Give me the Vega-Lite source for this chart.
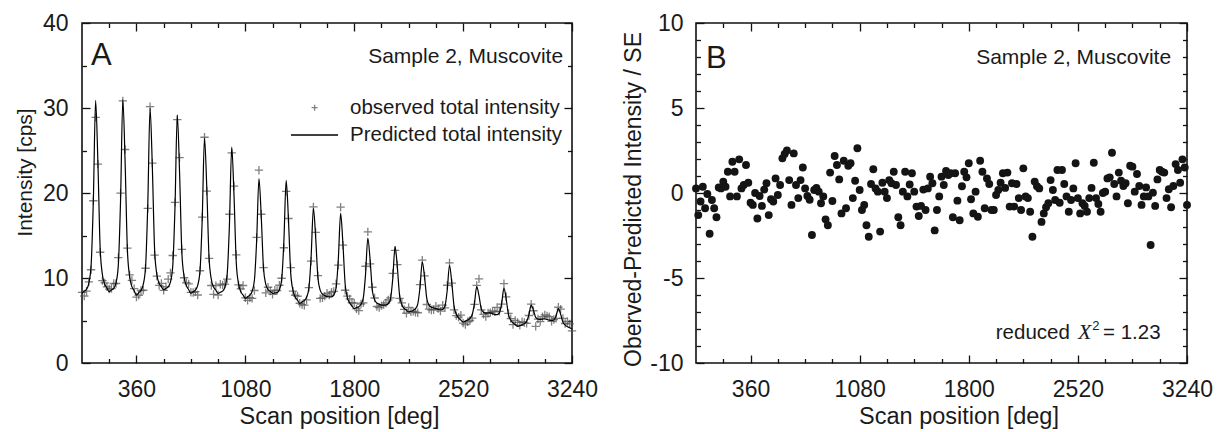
{
"$schema": "https://vega.github.io/schema/vega-lite/v6.json",
"background": "white",
"padding": {"left": 13, "top": 11, "right": 0, "bottom": 0},
"spacing": 22,
"config": {
 "axis": {"grid": false, "domain": false, "labelFont": "Liberation Sans", "labelFontSize": 23, "labelColor": "#1a1a1a", "titleFont": "Liberation Sans", "titleFontSize": 23.5, "titleFontWeight": "normal", "titleColor": "#1a1a1a", "tickColor": "#111111", "tickWidth": 1.3, "labelFlush": false, "labelOverlap": false},
 "view": {"stroke": "#111111", "strokeWidth": 1.6}
},
"datasets": {"scan": [
{"x":0,"o":8.32,"p":8.2,"r":0.27},{"x":15,"o":7.88,"p":8.45,"r":-1.3},{"x":30,"o":8.46,"p":8.68,"r":-0.5},{"x":45,"o":9.55,"p":9.38,"r":0.37},{"x":60,"o":10.97,"p":11.43,"r":-0.9},{"x":75,"o":19.09,"p":19.13,"r":-0.06},{"x":90,"o":28.9,"p":30.9,"r":-2.4},{"x":105,"o":23.39,"p":23.69,"r":-0.41},{"x":120,"o":13.03,"p":13.53,"r":-0.9},{"x":135,"o":9.69,"p":10.38,"r":-1.43},{"x":150,"o":9.42,"p":9.27,"r":0.33},{"x":165,"o":8.95,"p":8.83,"r":0.27},
{"x":180,"o":8.69,"p":8.4,"r":0.67},{"x":195,"o":8.76,"p":8.6,"r":0.37},{"x":210,"o":9.35,"p":8.79,"r":1.25},{"x":225,"o":9.35,"p":9.44,"r":-0.2},{"x":240,"o":12.39,"p":11.46,"r":1.84},{"x":255,"o":19.99,"p":19.17,"r":1.25},{"x":270,"o":30.83,"p":31.0,"r":-0.2},{"x":285,"o":25.12,"p":23.67,"r":1.98},{"x":300,"o":13.52,"p":13.37,"r":0.27},{"x":315,"o":10.37,"p":10.15,"r":0.47},{"x":330,"o":9.72,"p":8.98,"r":1.65},{"x":345,"o":8.75,"p":8.49,"r":0.6},
{"x":360,"o":7.76,"p":8.0,"r":-0.57},{"x":375,"o":7.97,"p":8.27,"r":-0.7},{"x":390,"o":8.53,"p":8.53,"r":0},{"x":405,"o":8.56,"p":9.24,"r":-1.5},{"x":420,"o":11.15,"p":11.24,"r":-0.18},{"x":435,"o":18.18,"p":18.67,"r":-0.76},{"x":450,"o":30.16,"p":30.0,"r":0.2},{"x":465,"o":23.52,"p":23.11,"r":0.57},{"x":480,"o":12.68,"p":13.39,"r":-1.3},{"x":495,"o":10.22,"p":10.4,"r":-0.37},{"x":510,"o":9.14,"p":9.37,"r":-0.5},{"x":525,"o":9.37,"p":8.98,"r":0.86},
{"x":540,"o":8.55,"p":8.6,"r":-0.12},{"x":555,"o":8.99,"p":8.78,"r":0.47},{"x":570,"o":9.87,"p":8.95,"r":2.04},{"x":585,"o":10.6,"p":9.54,"r":2.3},{"x":600,"o":12.65,"p":11.38,"r":2.5},{"x":615,"o":18.9,"p":18.41,"r":0.76},{"x":630,"o":28.63,"p":29.2,"r":-0.7},{"x":645,"o":24.17,"p":22.51,"r":2.33},{"x":660,"o":13.37,"p":13.11,"r":0.47},{"x":675,"o":10.03,"p":10.17,"r":-0.3},{"x":690,"o":9.44,"p":9.1,"r":0.76},{"x":705,"o":9.31,"p":8.65,"r":1.5},
{"x":720,"o":8.32,"p":8.2,"r":0.27},{"x":735,"o":8.3,"p":8.38,"r":-0.18},{"x":750,"o":8.39,"p":8.57,"r":-0.4},{"x":765,"o":8.0,"p":9.12,"r":-2.47},{"x":780,"o":10.85,"p":10.76,"r":0.18},{"x":795,"o":17.17,"p":16.98,"r":0.3},{"x":810,"o":26.56,"p":26.5,"r":0.08},{"x":825,"o":20.23,"p":20.64,"r":-0.6},{"x":840,"o":12.3,"p":12.41,"r":-0.2},{"x":855,"o":9.12,"p":9.85,"r":-1.55},{"x":870,"o":8.08,"p":8.93,"r":-1.9},{"x":885,"o":9.1,"p":8.57,"r":1.2},
{"x":900,"o":8.0,"p":8.2,"r":-0.47},{"x":915,"o":9.27,"p":8.33,"r":2.18},{"x":930,"o":9.17,"p":8.45,"r":1.65},{"x":945,"o":9.29,"p":8.93,"r":0.8},{"x":960,"o":9.87,"p":10.45,"r":-1.2},{"x":975,"o":17.5,"p":16.35,"r":1.9},{"x":990,"o":24.72,"p":25.4,"r":-0.9},{"x":1005,"o":20.82,"p":19.75,"r":1.6},{"x":1020,"o":12.73,"p":11.83,"r":1.75},{"x":1035,"o":9.19,"p":9.33,"r":-0.3},{"x":1050,"o":8.71,"p":8.4,"r":0.72},{"x":1065,"o":9.12,"p":8.0,"r":2.63},
{"x":1080,"o":7.67,"p":7.6,"r":0.18},{"x":1095,"o":7.37,"p":7.79,"r":-1.0},{"x":1110,"o":7.68,"p":7.98,"r":-0.7},{"x":1125,"o":7.61,"p":8.44,"r":-1.9},{"x":1140,"o":8.53,"p":9.73,"r":-2.57},{"x":1155,"o":14.77,"p":14.47,"r":0.53},{"x":1170,"o":22.68,"p":21.7,"r":1.4},{"x":1185,"o":17.5,"p":17.33,"r":0.27},{"x":1200,"o":11.21,"p":11.17,"r":0.08},{"x":1215,"o":8.25,"p":9.29,"r":-2.27},{"x":1230,"o":8.91,"p":8.65,"r":0.6},{"x":1245,"o":8.46,"p":8.43,"r":0.08},
{"x":1260,"o":8.07,"p":8.2,"r":-0.3},{"x":1275,"o":8.57,"p":8.24,"r":0.76},{"x":1290,"o":8.53,"p":8.28,"r":0.57},{"x":1305,"o":9.15,"p":8.6,"r":1.25},{"x":1320,"o":9.97,"p":9.75,"r":0.47},{"x":1335,"o":13.56,"p":14.37,"r":-1.43},{"x":1350,"o":20.18,"p":21.5,"r":-1.9},{"x":1365,"o":17.0,"p":16.95,"r":0.08},{"x":1380,"o":11.21,"p":10.6,"r":1.25},{"x":1395,"o":8.46,"p":8.55,"r":-0.2},{"x":1410,"o":7.97,"p":7.76,"r":0.5},{"x":1425,"o":7.85,"p":7.38,"r":1.16},
{"x":1440,"o":7.03,"p":7.0,"r":0.08},{"x":1455,"o":6.86,"p":7.18,"r":-0.8},{"x":1470,"o":6.8,"p":7.35,"r":-1.35},{"x":1485,"o":7.42,"p":7.74,"r":-0.76},{"x":1500,"o":8.87,"p":8.78,"r":0.2},{"x":1515,"o":11.98,"p":12.51,"r":-1.0},{"x":1530,"o":18.37,"p":18.2,"r":0.27},{"x":1545,"o":15.36,"p":14.81,"r":0.96},{"x":1560,"o":10.28,"p":10.01,"r":0.57},{"x":1575,"o":7.6,"p":8.57,"r":-2.2},{"x":1590,"o":7.67,"p":8.1,"r":-1.0},{"x":1605,"o":7.87,"p":7.95,"r":-0.2},
{"x":1620,"o":8.2,"p":7.8,"r":0.96},{"x":1635,"o":7.99,"p":7.79,"r":0.47},{"x":1650,"o":8.32,"p":7.78,"r":1.3},{"x":1665,"o":8.43,"p":7.98,"r":1.06},{"x":1680,"o":9.32,"p":8.8,"r":1.16},{"x":1695,"o":11.51,"p":12.26,"r":-1.43},{"x":1710,"o":18.33,"p":17.6,"r":1.16},{"x":1725,"o":13.87,"p":14.12,"r":-0.45},{"x":1740,"o":8.56,"p":9.29,"r":-1.6},{"x":1755,"o":7.87,"p":7.7,"r":0.4},{"x":1770,"o":7.55,"p":7.05,"r":1.25},{"x":1785,"o":7.09,"p":6.73,"r":0.92},
{"x":1800,"o":7.06,"p":6.4,"r":1.75},{"x":1815,"o":6.37,"p":6.51,"r":-0.37},{"x":1830,"o":6.17,"p":6.63,"r":-1.2},{"x":1845,"o":6.94,"p":6.91,"r":0.08},{"x":1860,"o":7.08,"p":7.66,"r":-1.4},{"x":1875,"o":11.38,"p":10.46,"r":1.9},{"x":1890,"o":15.42,"p":14.7,"r":1.25},{"x":1905,"o":11.67,"p":12.14,"r":-0.9},{"x":1920,"o":8.91,"p":8.53,"r":0.86},{"x":1935,"o":7.65,"p":7.43,"r":0.53},{"x":1950,"o":6.65,"p":7.05,"r":-1.0},{"x":1965,"o":6.53,"p":6.93,"r":-1.0},
{"x":1980,"o":6.75,"p":6.8,"r":-0.12},{"x":1995,"o":6.87,"p":6.8,"r":0.18},{"x":2010,"o":7.06,"p":6.82,"r":0.6},{"x":2025,"o":7.43,"p":6.97,"r":1.16},{"x":2040,"o":7.67,"p":7.55,"r":0.3},{"x":2055,"o":10.54,"p":9.97,"r":1.2},{"x":2070,"o":13.26,"p":13.7,"r":-0.8},{"x":2085,"o":11.58,"p":11.29,"r":0.57},{"x":2100,"o":7.61,"p":7.95,"r":-0.8},{"x":2115,"o":7.07,"p":6.86,"r":0.53},{"x":2130,"o":6.31,"p":6.42,"r":-0.3},{"x":2145,"o":5.85,"p":6.22,"r":-1.0},
{"x":2160,"o":6.53,"p":6.0,"r":1.45},{"x":2175,"o":6.02,"p":6.09,"r":-0.2},{"x":2190,"o":6.07,"p":6.18,"r":-0.3},{"x":2205,"o":5.97,"p":6.39,"r":-1.1},{"x":2220,"o":5.91,"p":6.93,"r":-2.57},{"x":2235,"o":9.21,"p":8.91,"r":0.67},{"x":2250,"o":12.11,"p":11.9,"r":0.4},{"x":2265,"o":10.24,"p":10.11,"r":0.27},{"x":2280,"o":6.88,"p":7.58,"r":-1.7},{"x":2295,"o":6.34,"p":6.81,"r":-1.2},{"x":2310,"o":6.24,"p":6.56,"r":-0.84},{"x":2325,"o":6.25,"p":6.48,"r":-0.6},
{"x":2340,"o":6.69,"p":6.4,"r":0.76},{"x":2355,"o":6.4,"p":6.33,"r":0.18},{"x":2370,"o":6.1,"p":6.25,"r":-0.41},{"x":2385,"o":6.81,"p":6.3,"r":1.35},{"x":2400,"o":6.48,"p":6.7,"r":-0.57},{"x":2415,"o":9.15,"p":8.56,"r":1.35},{"x":2430,"o":11.77,"p":11.5,"r":0.53},{"x":2445,"o":9.39,"p":9.48,"r":-0.2},{"x":2460,"o":6.26,"p":6.69,"r":-1.1},{"x":2475,"o":5.58,"p":5.73,"r":-0.41},{"x":2490,"o":5.4,"p":5.31,"r":0.27},{"x":2505,"o":5.64,"p":5.05,"r":1.75},
{"x":2520,"o":4.7,"p":4.8,"r":-0.3},{"x":2535,"o":4.53,"p":4.93,"r":-1.2},{"x":2550,"o":4.85,"p":5.05,"r":-0.6},{"x":2565,"o":5.0,"p":5.26,"r":-0.76},{"x":2580,"o":5.29,"p":5.68,"r":-1.1},{"x":2595,"o":6.89,"p":7.01,"r":-0.3},{"x":2610,"o":9.14,"p":9.0,"r":0.3},{"x":2625,"o":9.9,"p":7.92,"r":1.78},{"x":2640,"o":6.26,"p":6.37,"r":-0.3},{"x":2655,"o":5.72,"p":5.96,"r":-0.65},{"x":2670,"o":5.47,"p":5.87,"r":-1.1},{"x":2685,"o":5.88,"p":5.88,"r":0},
{"x":2700,"o":5.93,"p":5.9,"r":0.08},{"x":2715,"o":6.12,"p":5.81,"r":0.86},{"x":2730,"o":6.03,"p":5.7,"r":0.92},{"x":2745,"o":6.54,"p":5.69,"r":2.37},{"x":2760,"o":6.08,"p":5.89,"r":0.53},{"x":2775,"o":6.93,"p":7.01,"r":-0.2},{"x":2790,"o":9.33,"p":8.8,"r":1.2},{"x":2805,"o":7.79,"p":7.49,"r":0.72},{"x":2820,"o":5.83,"p":5.68,"r":0.41},{"x":2835,"o":5.22,"p":5.03,"r":0.57},{"x":2850,"o":4.52,"p":4.72,"r":-0.6},{"x":2865,"o":5.01,"p":4.5,"r":1.6},
{"x":2880,"o":4.78,"p":4.3,"r":1.55},{"x":2895,"o":4.43,"p":4.4,"r":0.08},{"x":2910,"o":4.85,"p":4.49,"r":1.12},{"x":2925,"o":4.76,"p":4.63,"r":0.41},{"x":2940,"o":4.66,"p":4.89,"r":-0.7},{"x":2955,"o":5.59,"p":5.66,"r":-0.2},{"x":2970,"o":6.93,"p":6.8,"r":0.33},{"x":2985,"o":6.15,"p":6.22,"r":-0.2},{"x":3000,"o":4.31,"p":5.37,"r":-3.06},{"x":3015,"o":5.17,"p":5.16,"r":0.02},{"x":3030,"o":4.87,"p":5.13,"r":-0.76},{"x":3045,"o":5.44,"p":5.17,"r":0.8},
{"x":3060,"o":5.66,"p":5.2,"r":1.35},{"x":3075,"o":5.54,"p":5.12,"r":1.25},{"x":3090,"o":5.44,"p":5.04,"r":1.2},{"x":3105,"o":4.89,"p":4.99,"r":-0.3},{"x":3120,"o":5.12,"p":5.05,"r":0.22},{"x":3135,"o":5.26,"p":5.56,"r":-0.84},{"x":3150,"o":6.56,"p":6.4,"r":0.41},{"x":3165,"o":6.33,"p":5.72,"r":1.7},{"x":3180,"o":5.25,"p":4.81,"r":1.35},{"x":3195,"o":4.65,"p":4.46,"r":0.6},{"x":3210,"o":4.88,"p":4.27,"r":1.98},{"x":3225,"o":4.6,"p":4.14,"r":1.5},
{"x":3240,"o":3.79,"p":4.0,"r":-0.7}
]},
"hconcat": [
 {
  "width": 490, "height": 340,
  "data": {"name": "scan"},
  "resolve": {"axis": {"x": "independent", "y": "independent"}},
  "layer": [
   {"mark": {"type": "point", "opacity": 0},
    "encoding": {
     "x": {"field": "x", "type": "quantitative", "scale": {"domain": [0, 3240], "nice": false, "zero": false}, "axis": {"orient": "bottom", "values": [180,540,720,900,1260,1440,1620,1980,2160,2340,2700,2880,3060], "labels": false, "tickSize": -4.5, "title": null}},
     "y": {"field": "o", "type": "quantitative", "scale": {"domain": [0, 40], "nice": false, "zero": false}, "axis": {"orient": "left", "values": [5,15,25,35], "labels": false, "tickSize": -4.5, "title": null}}
    }},
   {"mark": {"type": "point", "opacity": 0},
    "encoding": {
     "x": {"field": "x", "type": "quantitative", "axis": {"orient": "top", "values": [360,1080,1800,2520,3240], "labels": false, "tickSize": -8, "title": null}},
     "y": {"field": "o", "type": "quantitative", "axis": {"orient": "right", "values": [0,10,20,30,40], "labels": false, "tickSize": -8, "title": null}}
    }},
   {"mark": {"type": "point", "opacity": 0},
    "encoding": {
     "x": {"field": "x", "type": "quantitative", "axis": {"orient": "top", "values": [180,540,720,900,1260,1440,1620,1980,2160,2340,2700,2880,3060], "labels": false, "tickSize": -4.5, "title": null}},
     "y": {"field": "o", "type": "quantitative", "axis": {"orient": "right", "values": [5,15,25,35], "labels": false, "tickSize": -4.5, "title": null}}
    }},
   {"mark": {"type": "point", "shape": "M-1,0H1M0,-1V1", "filled": false, "size": 70, "strokeWidth": 1.3, "color": "#4d4d4d"},
    "encoding": {
     "x": {"field": "x", "type": "quantitative", "scale": {"domain": [0, 3240], "nice": false, "zero": false}, "axis": {"orient": "bottom", "values": [360,1080,1800,2520,3240], "ticks": false, "tickSize": 0, "labelPadding": 15, "labelExpr": "'' + datum.value", "title": "Scan position [deg]", "titleX": 257, "titleY": 41}},
     "y": {"field": "o", "type": "quantitative", "scale": {"domain": [0, 40], "nice": false, "zero": false}, "axis": {"orient": "left", "values": [0,10,20,30,40], "ticks": false, "tickSize": 0, "labelPadding": 14, "labelExpr": "'' + datum.value", "title": "Intensity [cps]", "titleFontSize": 21, "titleX": -47, "titleY": 149}}
    }},
   {"mark": {"type": "line", "strokeWidth": 1.2, "interpolate": "monotone", "color": "#000000"},
    "encoding": {
     "x": {"field": "x", "type": "quantitative", "axis": {"orient": "bottom", "values": [360,1080,1800,2520,3240], "labels": false, "tickSize": -8, "title": null}},
     "y": {"field": "p", "type": "quantitative", "axis": {"orient": "left", "values": [0,10,20,30,40], "labels": false, "tickSize": -8, "title": null}}
    }},
   {"data": {"values": [{}]},
    "mark": {"type": "point", "shape": "M-1,0H1M0,-1V1", "filled": false, "size": 36, "strokeWidth": 1.3, "color": "#4d4d4d"},
    "encoding": {"x": {"datum": 1538, "type": "quantitative", "axis": null}, "y": {"datum": 30.04, "type": "quantitative", "axis": null}}},
   {"data": {"values": [{}]},
    "mark": {"type": "rule", "strokeWidth": 1.5, "color": "#000000"},
    "encoding": {"x": {"datum": 1382, "type": "quantitative", "axis": null}, "x2": {"datum": 1693}, "y": {"datum": 26.82, "type": "quantitative", "axis": null}}},
   {"data": {"values": [{}]},
    "mark": {"type": "text", "text": "observed total intensity", "font": "Liberation Sans", "fontSize": 20.5, "align": "left", "baseline": "middle", "color": "#1a1a1a"},
    "encoding": {"x": {"datum": 1772, "type": "quantitative", "axis": null}, "y": {"datum": 30.04, "type": "quantitative", "axis": null}}},
   {"data": {"values": [{}]},
    "mark": {"type": "text", "text": "Predicted total intensity", "font": "Liberation Sans", "fontSize": 20.5, "align": "left", "baseline": "middle", "color": "#1a1a1a"},
    "encoding": {"x": {"datum": 1772, "type": "quantitative", "axis": null}, "y": {"datum": 26.82, "type": "quantitative", "axis": null}}},
   {"data": {"values": [{}]},
    "mark": {"type": "text", "text": "A", "font": "Liberation Sans", "fontSize": 31, "align": "left", "baseline": "alphabetic", "color": "#1a1a1a"},
    "encoding": {"x": {"datum": 60, "type": "quantitative", "axis": null}, "y": {"datum": 35.05, "type": "quantitative", "axis": null}}},
   {"data": {"values": [{}]},
    "mark": {"type": "text", "text": "Sample 2, Muscovite", "font": "Liberation Sans", "fontSize": 21, "align": "right", "baseline": "alphabetic", "color": "#1a1a1a"},
    "encoding": {"x": {"datum": 3181, "type": "quantitative", "axis": null}, "y": {"datum": 35.3, "type": "quantitative", "axis": null}}}
  ]
 },
 {
  "width": 491, "height": 340,
  "data": {"name": "scan"},
  "resolve": {"axis": {"x": "independent", "y": "independent"}},
  "layer": [
   {"mark": {"type": "point", "opacity": 0},
    "encoding": {
     "x": {"field": "x", "type": "quantitative", "scale": {"domain": [0, 3240], "nice": false, "zero": false}, "axis": {"orient": "bottom", "values": [180,540,720,900,1260,1440,1620,1980,2160,2340,2700,2880,3060], "labels": false, "tickSize": -4.5, "title": null}},
     "y": {"field": "r", "type": "quantitative", "scale": {"domain": [-10, 10], "nice": false, "zero": false}, "axis": {"orient": "left", "values": [-9,-8,-7,-6,-4,-3,-2,-1,1,2,3,4,6,7,8,9], "labels": false, "tickSize": -4.5, "title": null}}
    }},
   {"mark": {"type": "point", "opacity": 0},
    "encoding": {
     "x": {"field": "x", "type": "quantitative", "axis": {"orient": "top", "values": [360,1080,1800,2520,3240], "labels": false, "tickSize": -8, "title": null}},
     "y": {"field": "r", "type": "quantitative", "axis": {"orient": "right", "values": [-10,-5,0,5,10], "labels": false, "tickSize": -8, "title": null}}
    }},
   {"mark": {"type": "point", "opacity": 0},
    "encoding": {
     "x": {"field": "x", "type": "quantitative", "axis": {"orient": "top", "values": [180,540,720,900,1260,1440,1620,1980,2160,2340,2700,2880,3060], "labels": false, "tickSize": -4.5, "title": null}},
     "y": {"field": "r", "type": "quantitative", "axis": {"orient": "right", "values": [-9,-8,-7,-6,-4,-3,-2,-1,1,2,3,4,6,7,8,9], "labels": false, "tickSize": -4.5, "title": null}}
    }},
   {"mark": {"type": "point", "opacity": 0},
    "encoding": {
     "x": {"field": "x", "type": "quantitative", "axis": {"orient": "bottom", "values": [360,1080,1800,2520,3240], "labels": false, "tickSize": -8, "title": null}},
     "y": {"field": "r", "type": "quantitative", "axis": {"orient": "left", "values": [-10,-5,0,5,10], "labels": false, "tickSize": -8, "title": null}}
    }},
   {"mark": {"type": "circle", "size": 62, "color": "#141414", "opacity": 1},
    "encoding": {
     "x": {"field": "x", "type": "quantitative", "scale": {"domain": [0, 3240], "nice": false, "zero": false}, "axis": {"orient": "bottom", "values": [360,1080,1800,2520,3240], "ticks": false, "tickSize": 0, "labelPadding": 15, "labelExpr": "'' + datum.value", "title": "Scan position [deg]", "titleX": 262.5, "titleY": 41}},
     "y": {"field": "r", "type": "quantitative", "scale": {"domain": [-10, 10], "nice": false, "zero": false}, "axis": {"orient": "left", "values": [-10,-5,0,5,10], "ticks": false, "tickSize": 0, "labelPadding": 13, "labelExpr": "'' + datum.value", "title": "Oberved-Predicted Intensity / SE", "titleFontSize": 23, "titleX": -51, "titleY": 176}}
    }},
   {"data": {"values": [{}]},
    "mark": {"type": "text", "text": "B", "font": "Liberation Sans", "fontSize": 31, "align": "left", "baseline": "alphabetic", "color": "#1a1a1a"},
    "encoding": {"x": {"datum": 66, "type": "quantitative", "axis": null}, "y": {"datum": 7.35, "type": "quantitative", "axis": null}}},
   {"data": {"values": [{}]},
    "mark": {"type": "text", "text": "Sample 2, Muscovite", "font": "Liberation Sans", "fontSize": 21, "align": "right", "baseline": "alphabetic", "color": "#1a1a1a"},
    "encoding": {"x": {"datum": 3135, "type": "quantitative", "axis": null}, "y": {"datum": 7.59, "type": "quantitative", "axis": null}}},
   {"data": {"values": [{}]},
    "mark": {"type": "text", "text": "reduced", "font": "Liberation Sans", "fontSize": 20.5, "align": "right", "baseline": "alphabetic", "color": "#1a1a1a"},
    "encoding": {"x": {"datum": 2467, "type": "quantitative", "axis": null}, "y": {"datum": -8.59, "type": "quantitative", "axis": null}}},
   {"data": {"values": [{}]},
    "mark": {"type": "text", "text": "X", "font": "Liberation Serif", "fontStyle": "italic", "fontSize": 22, "align": "left", "baseline": "alphabetic", "color": "#1a1a1a"},
    "encoding": {"x": {"datum": 2520, "type": "quantitative", "axis": null}, "y": {"datum": -8.59, "type": "quantitative", "axis": null}}},
   {"data": {"values": [{}]},
    "mark": {"type": "text", "text": "2", "font": "Liberation Sans", "fontSize": 13, "align": "left", "baseline": "alphabetic", "color": "#1a1a1a"},
    "encoding": {"x": {"datum": 2614, "type": "quantitative", "axis": null}, "y": {"datum": -8.06, "type": "quantitative", "axis": null}}},
   {"data": {"values": [{}]},
    "mark": {"type": "text", "text": "= 1.23", "font": "Liberation Sans", "fontSize": 20.5, "align": "left", "baseline": "alphabetic", "color": "#1a1a1a"},
    "encoding": {"x": {"datum": 2686, "type": "quantitative", "axis": null}, "y": {"datum": -8.59, "type": "quantitative", "axis": null}}}
  ]
 }
]
}
